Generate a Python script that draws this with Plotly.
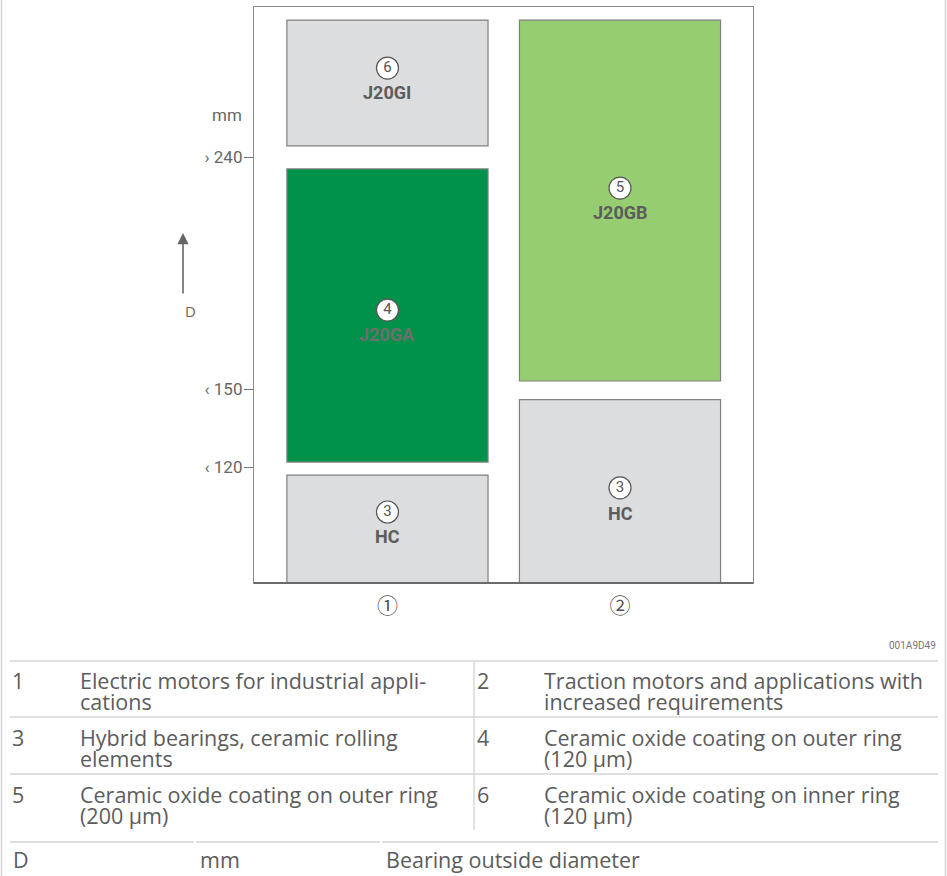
import plotly.graph_objects as go

# ---------------- data ----------------
columns = [0, 1]                       # ① industrial, ② traction
column_ticks = ["①", "②"]
box_column = [0, 0, 0, 1, 1]
box_low = [75.0, 121.9, 244.3, 75.0, 153.3]      # mm
box_high = [116.9, 235.4, 293.0, 146.1, 293.0]   # mm
box_number = ["3", "4", "6", "3", "5"]
box_name = ["HC", "J20GA", "J20GI", "HC", "J20GB"]
box_color = ["#dcdddf", "#00924a", "#dcdddf", "#dcdddf", "#96cd70"]
box_text_color = ["#5c5c5c", "#6e6e6e", "#5c5c5c", "#5c5c5c", "#5c5c5c"]

y_tickvals = [120, 150, 240]
y_ticktext = ["‹ 120", "‹ 150", "› 240"]

legend_keys = ["1", "2", "3", "4", "5", "6"]
legend_lines = [
    ["Electric motors for industrial appli-", "cations"],
    ["Traction motors and applications with", "increased requirements"],
    ["Hybrid bearings, ceramic rolling", "elements"],
    ["Ceramic oxide coating on outer ring", "(120 µm)"],
    ["Ceramic oxide coating on outer ring", "(200 µm)"],
    ["Ceramic oxide coating on inner ring", "(120 µm)"],
]
symbol_row = ["D", "mm", "Bearing outside diameter"]
figure_id = "001A9D49"

# ---------------- layout geometry ----------------
W_FIG, H_FIG = 947, 876
L, T = 254, 7
PLOT_W, PLOT_H = 499, 576
R = W_FIG - L - PLOT_W
B = H_FIG - T - PLOT_H
Y_RANGE = [75.1, 298.1]
X_RANGE = [-0.574, 1.572]
PPM = PLOT_H / (Y_RANGE[1] - Y_RANGE[0])


def px(x):
    return (x - L) / PLOT_W


def py(y):
    return (T + PLOT_H - y) / PLOT_H


GRAY_TXT = "#5c5c5c"
LABEL_FONT = "Roboto"
fig = go.Figure()

for c, lo, hi, col in zip(box_column, box_low, box_high, box_color):
    fig.add_trace(go.Bar(
        x=[c], y=[hi - lo], base=[lo], width=0.865,
        marker=dict(color=col, line=dict(color="#808080", width=1.2)),
        hoverinfo="skip", showlegend=False))

# label offsets in pixels relative to box middle (circle, name)
circle_off = [-17, -5.5, -15, -3.5, -12.5]
name_off = [8, 19.5, 10, 23.5, 12.5]

cx, cy, ct = [], [], []
for i, (c, lo, hi) in enumerate(zip(box_column, box_low, box_high)):
    lo_v = max(lo, Y_RANGE[0])
    mid = (lo_v + hi) / 2
    cx.append(c)
    cy.append(mid - circle_off[i] / PPM)
    ct.append(box_number[i])
    fig.add_annotation(x=c, y=mid, yshift=-name_off[i] + 1, text="<b>" + box_name[i] + "</b>",
                       showarrow=False, xref="x", yref="y",
                       font=dict(family=LABEL_FONT, size=18,
                                 color=box_text_color[i]))

fig.add_trace(go.Scatter(
    x=cx, y=cy, mode="markers+text", text=ct, textposition="middle center",
    textfont=dict(family=LABEL_FONT, size=15, color="#555555"),
    marker=dict(size=22, color="white", line=dict(color="#555555", width=1.2)),
    hoverinfo="skip", showlegend=False, cliponaxis=False))

fig.update_layout(
    width=W_FIG, height=H_FIG,
    margin=dict(l=L, r=R, t=T, b=B),
    paper_bgcolor="white", plot_bgcolor="white",
    barmode="overlay",
    xaxis=dict(range=X_RANGE, tickvals=columns, ticktext=column_ticks,
               showgrid=False, zeroline=False, showline=True, mirror=True,
               linecolor="#8a8a8a", linewidth=1.3, ticks="", ticklabelstandoff=4,
               tickfont=dict(family="Noto Sans CJK JP", size=21, color="#555555")),
    yaxis=dict(range=Y_RANGE, tickvals=y_tickvals, ticktext=y_ticktext,
               showgrid=False, zeroline=False, showline=True, mirror=True,
               linecolor="#8a8a8a", linewidth=1.3, ticks="outside", ticklen=9,
               tickcolor="#777777", tickwidth=1.2, ticklabelstandoff=-2,
               tickfont=dict(family=LABEL_FONT, size=17, color="#666666")),
)

shapes = []
# heavier bottom axis line
shapes.append(dict(type="line", xref="paper", yref="paper", x0=0, x1=1, y0=0, y1=0,
                   line=dict(color="#6a6a6a", width=2.2)))
# page borders
for xb in (1.5, 945.5):
    shapes.append(dict(type="line", xref="paper", yref="paper", x0=px(xb), x1=px(xb),
                       y0=py(0), y1=py(H_FIG), line=dict(color="#d4d4d4", width=1.5)))
# table lines
for yl in (661, 717, 774):
    shapes.append(dict(type="line", xref="paper", yref="paper", x0=px(10), x1=px(938),
                       y0=py(yl), y1=py(yl), line=dict(color="#d6d6d6", width=1.6)))
for x0, x1 in ((10, 194), (196, 380), (382, 938)):
    shapes.append(dict(type="line", xref="paper", yref="paper", x0=px(x0), x1=px(x1),
                       y0=py(842), y1=py(842), line=dict(color="#d6d6d6", width=1.6)))
shapes.append(dict(type="line", xref="paper", yref="paper", x0=px(474), x1=px(474),
                   y0=py(661), y1=py(830), line=dict(color="#d6d6d6", width=1.4)))
fig.update_layout(shapes=shapes)

# unit label and axis arrow
fig.add_annotation(xref="paper", yref="paper", x=px(244), y=py(115), xanchor="right",
                   yanchor="middle", text="mm", showarrow=False,
                   font=dict(family=LABEL_FONT, size=17, color="#666666"))
fig.add_annotation(xref="paper", yref="paper", x=px(183), y=py(233), ax=0, ay=62,
                   axref="pixel", ayref="pixel", text="", showarrow=True,
                   arrowhead=2, arrowsize=1.4, arrowwidth=1.6, arrowcolor="#666666")
fig.add_annotation(xref="paper", yref="paper", x=px(183), y=py(311), text="D",
                   showarrow=False, yanchor="middle",
                   font=dict(family="Open Sans", size=15, color="#666666"))
fig.add_annotation(xref="paper", yref="paper", x=px(938), y=py(645), xanchor="right",
                   yanchor="middle", text=figure_id, showarrow=False,
                   font=dict(family=LABEL_FONT, size=10, color="#777777"))

# legend table
TFONT = dict(family="Open Sans", size=21.5, color=GRAY_TXT)
row_y = [680, 737, 794]
LINE_GAP = 21
for i, key in enumerate(legend_keys):
    r, c = divmod(i, 2)
    kx = 10 if c == 0 else 475
    tx = 78 if c == 0 else 542
    y0 = row_y[r]
    fig.add_annotation(xref="paper", yref="paper", x=px(kx), y=py(y0), xanchor="left",
                       yanchor="middle", text=key, showarrow=False, font=TFONT)
    for j, line in enumerate(legend_lines[i]):
        fig.add_annotation(xref="paper", yref="paper", x=px(tx), y=py(y0 + LINE_GAP * j),
                           xanchor="left", yanchor="middle", text=line,
                           showarrow=False, font=TFONT)

for txt, xx in zip(symbol_row, (11, 198, 384)):
    fig.add_annotation(xref="paper", yref="paper", x=px(xx), y=py(859), xanchor="left",
                       yanchor="middle", text=txt, showarrow=False, font=TFONT)

fig.write_html("out.html", config={"displayModeBar": False},
               post_script="document.body.style.margin='0px';")
